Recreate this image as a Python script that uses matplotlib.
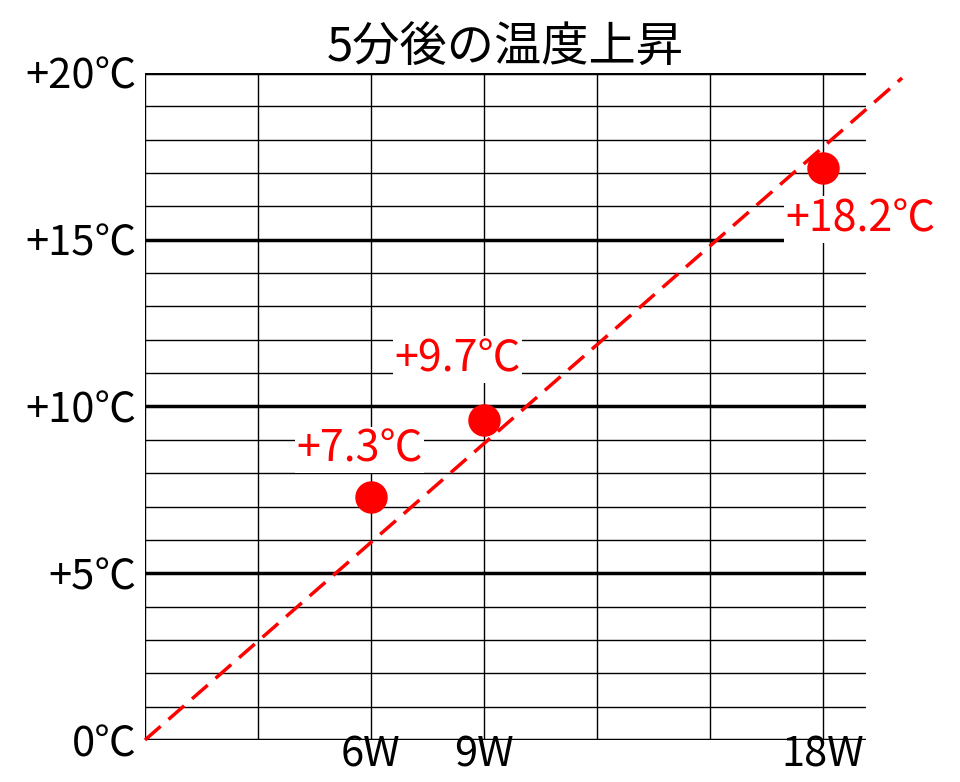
import matplotlib
matplotlib.use("Agg")
import matplotlib.pyplot as plt

plt.rcParams["font.family"] = ["Noto Sans CJK JP", "DejaVu Sans"]

watts = [6, 9, 18]
rise = [7.3, 9.6, 17.15]
labels = ["+7.3℃", "+9.7℃", "+18.2℃"]
label_pos = [(5.7, 8.7), (8.3, 11.4), (19.0, 15.6)]
xticks = [6, 9, 18]
yticks = [0, 5, 10, 15, 20]
ytick_labels = ["0℃", "+5℃", "+10℃", "+15℃", "+20℃"]

fig = plt.figure(figsize=(9.6, 7.82), dpi=100)
ax = fig.add_axes([0.151, 0.0537, 0.751, 0.853])
ax.set_xlim(0, 19.14)
ax.set_ylim(0, 20)

for y in range(0, 21):
    ax.axhline(y, color="black", lw=2.5 if y % 5 == 0 else 1.0, zorder=1)
for x in range(0, 19, 3):
    ax.axvline(x, color="black", lw=1.0, zorder=1)

ax.plot([0, 20.1], [0, 19.85], color="red", lw=2.5, dashes=(6, 3), clip_on=False, zorder=2)
ax.scatter(watts, rise, s=500, color="red", zorder=3, clip_on=False)
for t, (x, y) in zip(labels, label_pos):
    ax.text(x, y, t, color="red", fontsize=31, ha="center", va="center", zorder=4,
            bbox=dict(facecolor="white", edgecolor="none", pad=1))

ax.set_xticks(xticks)
ax.set_xticklabels([f"{w}W" for w in xticks])
ax.set_yticks(yticks)
ax.set_yticklabels(ytick_labels)
ax.tick_params(length=0, labelsize=30)
ax.tick_params(axis="x", pad=-4)
ax.tick_params(axis="y", pad=6)
for s in ax.spines.values():
    s.set_visible(False)
ax.set_title("5分後の温度上昇", fontsize=34, pad=4)

fig.savefig("out.png", dpi=100)
